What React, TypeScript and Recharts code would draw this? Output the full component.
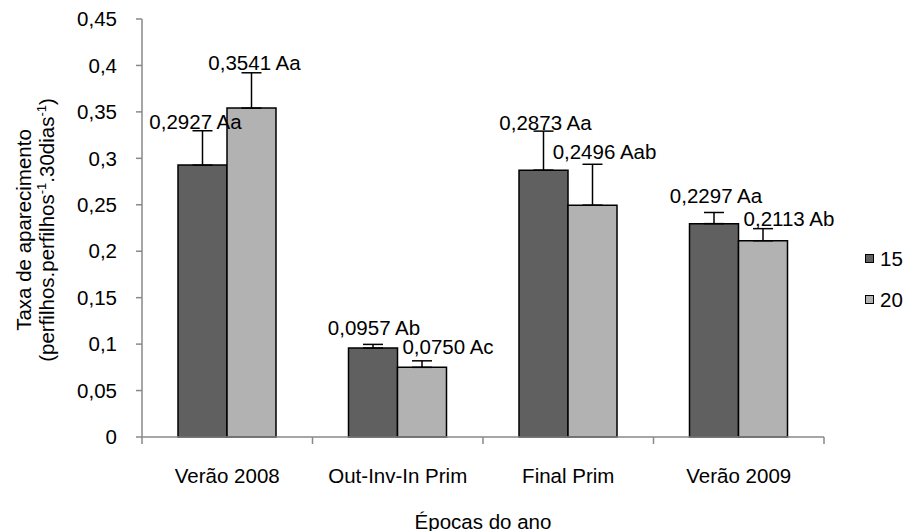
import { BarChart, Bar, XAxis, YAxis, ErrorBar, LabelList } from "recharts";

const epocas = ["Verão 2008", "Out-Inv-In Prim", "Final Prim", "Verão 2009"];
const taxa15 = [0.2927, 0.0957, 0.2873, 0.2297];
const taxa20 = [0.3541, 0.075, 0.2496, 0.2113];
const erro15 = [0.037, 0.004, 0.042, 0.012];
const erro20 = [0.038, 0.007, 0.044, 0.013];
const letras15 = ["Aa", "Ab", "Aa", "Aa"];
const letras20 = ["Aa", "Ac", "Aab", "Ab"];
const yTicks = [0, 0.05, 0.1, 0.15, 0.2, 0.25, 0.3, 0.35, 0.4, 0.45];

// label nudges [dx, dy] (px), as placed by hand in the original
const nudge15 = [[-7, -9], [1, -17], [2, -9], [2, -17]];
const nudge20 = [[3, -10], [26, -14], [12, -13], [26, -10]];

const data = epocas.map((e, i) => ({
  epoca: e,
  t15: taxa15[i],
  t20: taxa20[i],
  e15: [0, erro15[i]],
  e20: [0, erro20[i]],
}));

const FONT = "'Liberation Sans', Arial, sans-serif";
const AXIS = "#898989";
const COR15 = "#606060";
const COR20 = "#b2b2b2";
const txt = { fontFamily: FONT, fontSize: 20.5, fill: "#000" };

const virgula = (v: number, d?: number) =>
  (d === undefined ? String(v) : v.toFixed(d)).replace(".", ",");

function rotulo(values: number[], errs: number[], letters: string[], nudge: number[][]) {
  return (props: any) => {
    const vb = props.viewBox ?? props;
    const i = props.index ?? values.indexOf(props.value);
    if (i < 0 || i === undefined) return null;
    const x = Number(vb.x);
    const w = Number(vb.width);
    const h = Math.abs(Number(vb.height));
    const top = Math.min(Number(vb.y), Number(vb.y) + Number(vb.height));
    const errPx = (errs[i] * h) / values[i];
    return (
      <text
        x={x + w / 2 + nudge[i][0]}
        y={top - errPx + nudge[i][1]}
        textAnchor="middle"
        dominantBaseline="central"
        {...txt}
      >
        {`${virgula(values[i], 4)} ${letters[i]}`}
      </text>
    );
  };
}

// category tick: label in the middle, tick marks on the band edges (Excel style)
const TICK_SIZE = 6;
const TICK_MARGIN = 0;
function EpocaTick(props: any) {
  const { x, y, payload, index, visibleTicksCount, width } = props;
  const n = visibleTicksCount ?? epocas.length;
  const y0 = y - TICK_SIZE - TICK_MARGIN;
  const off = payload?.offset ? payload.offset : Number(width) / n / 2;
  const last = index === n - 1;
  return (
    <g>
      <line x1={x - off} x2={x - off} y1={y0} y2={y0 + 7} stroke={AXIS} strokeWidth={1.5} />
      {last && <line x1={x + off} x2={x + off} y1={y0} y2={y0 + 7} stroke={AXIS} strokeWidth={1.5} />}
      <text x={x} y={y0 + 38} textAnchor="middle" dominantBaseline="central" {...txt}>
        {payload.value}
      </text>
    </g>
  );
}

function XLabel(props: any) {
  const vb = props.viewBox ?? { x: 142, y: 437, width: 682, height: 34 };
  return (
    <text
      x={vb.x + vb.width / 2}
      y={vb.y + 84}
      textAnchor="middle"
      dominantBaseline="central"
      {...txt}
    >
      Épocas do ano
    </text>
  );
}

function YLabel(props: any) {
  const vb = props.viewBox ?? { x: 0, y: 19, width: 0, height: 418 };
  const cy = vb.y + vb.height / 2 + 2;
  return (
    <g transform={`translate(0, ${cy}) rotate(-90)`}>
      <text x={0} y={31} textAnchor="middle" {...txt}>
        Taxa de aparecimento
      </text>
      <text x={0} y={54} textAnchor="middle" {...txt}>
        (perfilhos.perfilhos
        <tspan fontSize={13} dy={-8}>-1</tspan>
        <tspan dy={8}>.30dias</tspan>
        <tspan fontSize={13} dy={-8}>-1</tspan>
        <tspan dy={8}>)</tspan>
      </text>
    </g>
  );
}

function Legenda() {
  const itens = [
    { nome: "15", cor: COR15 },
    { nome: "20", cor: COR20 },
  ];
  return (
    <div
      style={{
        position: "absolute",
        left: 865,
        top: 238,
        fontFamily: FONT,
        fontSize: 20.5,
      }}
    >
      {itens.map((it) => (
        <div key={it.nome} style={{ display: "flex", alignItems: "center", height: 41 }}>
          <span
            style={{
              display: "inline-block",
              width: 7,
              height: 7,
              background: it.cor,
              border: "1.5px solid #000",
              marginRight: 6,
            }}
          />
          <span>{it.nome}</span>
        </div>
      ))}
    </div>
  );
}

export default function App() {
  return (
    <div style={{ position: "absolute", left: 0, top: 0, width: 908, height: 531, background: "#fff" }}>
      <BarChart
        width={908}
        height={531}
        data={data}
        margin={{ top: 19, right: 84, bottom: 60, left: 82 }}
        barGap={0}
        barSize={49}
      >
        <XAxis
          dataKey="epoca"
          axisLine={{ stroke: AXIS, strokeWidth: 1.5 }}
          tickLine={false}
          tick={<EpocaTick />}
          tickSize={TICK_SIZE}
          tickMargin={TICK_MARGIN}
          height={34}
          interval={0}
          label={{ content: (p: any) => <XLabel {...p} /> }}
        />
        <YAxis
          type="number"
          domain={[0, 0.45]}
          ticks={yTicks}
          interval={0}
          width={60}
          axisLine={{ stroke: AXIS, strokeWidth: 1.5 }}
          tickLine={{ stroke: AXIS, strokeWidth: 1.5 }}
          tickSize={6}
          tickMargin={19}
          tick={txt}
          tickFormatter={(v: number) => virgula(v)}
          label={{ content: (p: any) => <YLabel {...p} /> }}
        />
        <Bar dataKey="t15" name="15" fill={COR15} stroke="#000" strokeWidth={1.5} isAnimationActive={false}>
          <ErrorBar dataKey="e15" direction="y" width={10} stroke="#000" strokeWidth={1.5} isAnimationActive={false} />
          <LabelList dataKey="t15" content={rotulo(taxa15, erro15, letras15, nudge15)} />
        </Bar>
        <Bar dataKey="t20" name="20" fill={COR20} stroke="#000" strokeWidth={1.5} isAnimationActive={false}>
          <ErrorBar dataKey="e20" direction="y" width={10} stroke="#000" strokeWidth={1.5} isAnimationActive={false} />
          <LabelList dataKey="t20" content={rotulo(taxa20, erro20, letras20, nudge20)} />
        </Bar>
      </BarChart>
      <Legenda />
    </div>
  );
}
